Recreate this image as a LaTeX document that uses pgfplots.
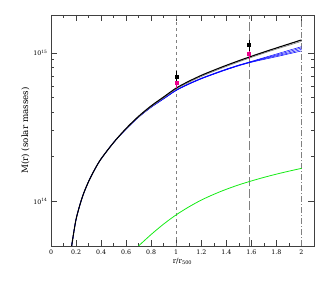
\documentclass[border=0pt]{standalone}
\usepackage{fontspec}
\setmainfont{DejaVu Serif}
\usepackage{pgfplots}
\pgfplotsset{compat=1.18}
\definecolor{brightgreen}{RGB}{20,235,20}
\begin{document}
\begin{tikzpicture}
\begin{axis}[
  scale only axis, width=263bp, height=231bp,
  xmin=0, xmax=2.1, ymode=log, ymin=5e13, ymax=1.8e15,
  xtick={0,0.2,0.4,0.6,0.8,1,1.2,1.4,1.6,1.8,2},
  xticklabels={0,0.2,0.4,0.6,0.8,1,1.2,1.4,1.6,1.8,2},
  minor x tick num=1,
  ytick={1e14,1e15}, yticklabels={10\textsuperscript{14},10\textsuperscript{15}},
  /pgf/number format/assume math mode=true,
  tick align=inside, ticks=both,
  major tick length=6bp, minor tick length=3bp,
  axis line style={black!75, line width=0.6pt},
  every tick/.style={black!75, line width=0.5pt},
  tick label style={font=\fontsize{6.3}{7}\selectfont},
  xlabel={r/r\textsubscript{500}},
  ylabel={M(r) (solar masses)},
  xlabel style={font=\fontsize{7.2}{8}\selectfont, yshift=3bp},
  ylabel style={font=\fontsize{8.8}{10}\selectfont, yshift=-3bp},
  clip=true,
]
% vertical reference lines
\addplot[gray, dashed, line width=0.6pt] coordinates {(1,5e13) (1,1.8e15)};
\addplot[gray, dash pattern=on 9pt off 3pt, line width=0.6pt] coordinates {(1.58,5e13) (1.58,1.8e15)};
\addplot[gray, dash pattern=on 6pt off 2pt on 1pt off 2pt, line width=0.6pt] coordinates {(2,5e13) (2,1.8e15)};
% blue curves
\addplot[blue, line width=0.5pt, smooth] coordinates {(0.165,5.0e13) (0.2,7.55e13) (0.25,1.067e14) (0.3,1.358e14) (0.35,1.644e14) (0.4,1.932e14) (0.5,2.489e14) (0.6,3.066e14) (0.7,3.685e14) (0.8,4.298e14) (0.9,4.896e14) (1.0,5.58e14) (1.1,6.14e14) (1.2,6.68e14) (1.3,7.18e14) (1.4,7.69e14) (1.5,8.19e14) (1.6,8.64e14) (1.7,9.03e14) (1.8,9.42e14) (1.9,9.85e14) (2.0,1.03e15)};
\addplot[blue, line width=0.5pt, smooth] coordinates {(0.165,5.0e13) (0.2,7.55e13) (0.25,1.067e14) (0.3,1.358e14) (0.35,1.644e14) (0.4,1.932e14) (0.5,2.489e14) (0.6,3.07e14) (0.7,3.695e14) (0.8,4.31e14) (0.9,4.91e14) (1.0,5.595e14) (1.1,6.16e14) (1.2,6.7e14) (1.3,7.2e14) (1.4,7.72e14) (1.5,8.22e14) (1.6,8.68e14) (1.7,9.12e14) (1.8,9.55e14) (1.9,1.0e15) (2.0,1.055e15)};
\addplot[blue, line width=0.5pt, smooth] coordinates {(0.165,5.0e13) (0.2,7.55e13) (0.25,1.067e14) (0.3,1.358e14) (0.35,1.644e14) (0.4,1.932e14) (0.5,2.489e14) (0.6,3.074e14) (0.7,3.705e14) (0.8,4.32e14) (0.9,4.925e14) (1.0,5.61e14) (1.1,6.18e14) (1.2,6.72e14) (1.3,7.23e14) (1.4,7.75e14) (1.5,8.25e14) (1.6,8.72e14) (1.7,9.2e14) (1.8,9.68e14) (1.9,1.02e15) (2.0,1.08e15)};
\addplot[blue, line width=0.5pt, smooth] coordinates {(0.165,5.0e13) (0.2,7.55e13) (0.25,1.067e14) (0.3,1.358e14) (0.35,1.644e14) (0.4,1.932e14) (0.5,2.489e14) (0.6,3.078e14) (0.7,3.715e14) (0.8,4.33e14) (0.9,4.94e14) (1.0,5.625e14) (1.1,6.2e14) (1.2,6.75e14) (1.3,7.26e14) (1.4,7.78e14) (1.5,8.28e14) (1.6,8.76e14) (1.7,9.28e14) (1.8,9.82e14) (1.9,1.04e15) (2.0,1.1e15)};
% gray curve
\addplot[gray, line width=0.6pt, smooth] coordinates {(0.165,5.0e13) (0.2,7.55e13) (0.25,1.067e14) (0.3,1.358e14) (0.35,1.644e14) (0.4,1.932e14) (0.5,2.489e14) (0.6,3.07e14) (0.7,3.7e14) (0.8,4.33e14) (0.9,4.97e14) (1.0,5.7e14) (1.1,6.32e14) (1.2,6.93e14) (1.3,7.51e14) (1.4,8.1e14) (1.5,8.7e14) (1.6,9.32e14) (1.7,9.95e14) (1.8,1.06e15) (1.9,1.125e15) (2.0,1.195e15)};
% black curve
\addplot[black, line width=1.1pt, smooth] coordinates {(0.165,5.0e13) (0.2,7.55e13) (0.25,1.067e14) (0.3,1.358e14) (0.35,1.644e14) (0.4,1.932e14) (0.5,2.489e14) (0.6,3.097e14) (0.7,3.741e14) (0.8,4.395e14) (0.9,5.047e14) (1.0,5.794e14) (1.1,6.43e14) (1.2,7.05e14) (1.3,7.64e14) (1.4,8.24e14) (1.5,8.85e14) (1.6,9.48e14) (1.7,1.012e15) (1.8,1.079e15) (1.9,1.148e15) (2.0,1.222e15)};
% green curve
\addplot[brightgreen, line width=0.8pt, smooth] coordinates {(0.699,5.0e13) (0.8,5.98e13) (0.9,7.03e13) (1.0,8.11e13) (1.1,9.16e13) (1.2,1.019e14) (1.3,1.114e14) (1.4,1.205e14) (1.5,1.291e14) (1.6,1.371e14) (1.7,1.449e14) (1.8,1.524e14) (1.9,1.596e14) (2.0,1.667e14)};
% data points
\addplot[only marks, mark=square*, mark size=1.5bp, magenta,
  error bars/.cd, y dir=both, y explicit, error bar style={magenta, line width=0.7pt}, error mark options={mark size=1.6bp, magenta, line width=0.7pt}]
  coordinates {(1.0,6.3e14) +- (0,0.35e14) (1.58,9.85e14) +- (0,0.5e14)};
\addplot[only marks, mark=square*, mark size=1.5bp, black,
  error bars/.cd, y dir=both, y explicit, error bar style={black, line width=0.7pt}, error mark options={mark size=1.6bp, black, line width=0.7pt}]
  coordinates {(1.0,6.96e14) +- (0,0.45e14) (1.58,1.13e15) +- (0,0.07e15)};
\end{axis}
\path ([shift={(-51bp,-45bp)}]current axis.south west) rectangle ([shift={(18bp,15bp)}]current axis.north east);
\end{tikzpicture}
\end{document}
